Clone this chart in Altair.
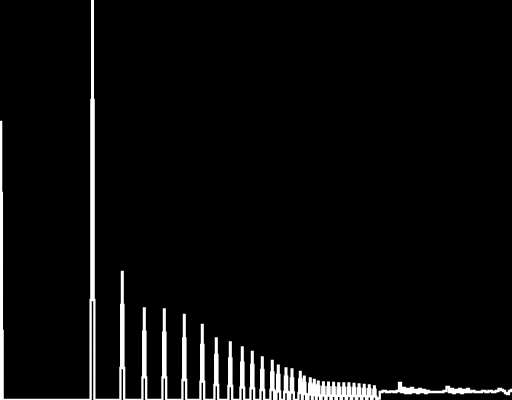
import altair as alt
import pandas as pd

# DC bin (left edge)
dc_freq = [0.0, 0.75, 1.5, 2.25, 3.0]
dc_amp = [0, 278, 207, 69, 0]

# Harmonic peaks: centre frequency, peak value, first and second side-bin values
peak_center = [92.5, 122.3, 144.3, 164.3, 184.3, 202.3, 216.3, 230.3, 242.3, 252.3,
               262.3, 272.3, 278.3, 286.0, 292.0, 300.3, 304.3, 310.3, 314.3, 318.3,
               323.4, 328.5, 333.6, 338.7, 343.8, 348.9, 354.0, 359.1, 364.2, 369.3,
               374.4]
peak_top = [402, 128, 91.7, 90.7, 85, 75, 61.7, 57.7, 52.7, 48,
            42.7, 39, 34.3, 31.7, 30.7, 28, 23.3, 21.7, 20, 18.3,
            17.5, 17.3, 17, 16.7, 16.7, 16.5, 16, 15.7, 15, 14.5,
            13.5]
peak_mid = [300, 95, 68.3, 67.3, 61.7, 55, 45, 41.7, 37.3, 35,
            30, 27.7, 25, 23.3, 21.5, 20.5, 17, 16, 15, 13.5,
            13, 12.8, 12.6, 12.4, 12.4, 12.3, 12, 11.7, 11.2, 10.8,
            10]
peak_low = [100, 32, 22.7, 22.7, 20, 18.3, 15, 14, 12.3, 11.7,
            10, 10, 8.5, 8, 7.5, 7, 6, 5.5, 5, 4.5,
            4.4, 4.3, 4.2, 4.2, 4.1, 4.1, 4, 4, 3.8, 3.6,
            3.4]
bin_width = 0.75

# Noise floor at high frequencies
noise_freq = [378.5, 381, 384, 388, 392, 395, 398, 400, 402, 404, 406, 408, 410, 412,
              414, 416, 418, 420, 422, 424, 426, 428, 430, 434, 438, 442, 445, 448,
              450, 452, 454, 456, 458, 460, 462, 464, 466, 468, 470, 473, 476, 480,
              484, 487, 490, 494, 497, 500, 502, 504, 506, 508, 510, 512]
noise_amp = [1.5, 8, 9, 8, 8.5, 8, 9, 17, 8, 12, 7, 11, 7, 12,
             8, 10, 7, 11, 8, 10, 7, 9, 8, 8, 8, 8, 9, 13,
             8, 11, 7, 10, 8, 11, 7, 10, 8, 11, 8, 9, 8, 8,
             9, 8, 9, 8, 9, 11, 10, 9, 7, 6, 9, 10]

rows = [{"f": f, "a": a} for f, a in zip(dc_freq, dc_amp)]
for c, t, m, l in zip(peak_center, peak_top, peak_mid, peak_low):
    vals = [0, l, m, t, m, l, 0]
    for k, v in zip(range(-3, 4), vals):
        rows.append({"f": c + k * bin_width, "a": v})
rows += [{"f": f, "a": a} for f, a in zip(noise_freq, noise_amp)]
df = pd.DataFrame(rows).sort_values("f", kind="stable").reset_index(drop=True)
df["i"] = range(len(df))

chart = alt.Chart(df).mark_line(
    color="white", strokeWidth=2.3, clip=True, interpolate="step"
).encode(
    x=alt.X("f:Q", scale=alt.Scale(domain=[0, 512], nice=False, zero=False), axis=None),
    y=alt.Y("a:Q", scale=alt.Scale(domain=[0, 400], nice=False), axis=None),
    order=alt.Order("i:Q"),
).properties(
    width=512, height=400, padding=0, background="black",
    autosize=alt.AutoSizeParams(type="none"),
).configure_view(strokeWidth=0)

chart.save("out.html", embed_options={"renderer": "svg", "actions": False})
